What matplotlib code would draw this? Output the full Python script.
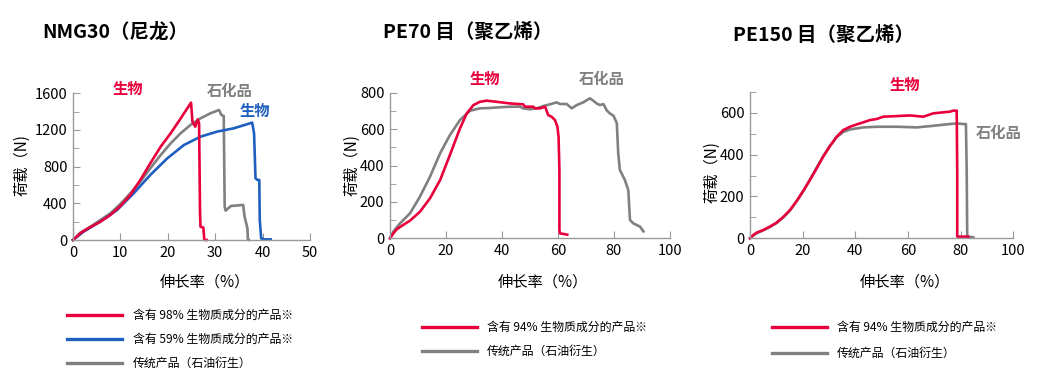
import matplotlib.pyplot as plt
from matplotlib.lines import Line2D

plt.rcParams['font.family'] = ['Noto Sans CJK SC', 'DejaVu Sans']

RED = '#e8003d'
BLUE = '#1f5fc0'
GRAY = '#808080'

# NMG30 (nylon)
nmg_red_x = [0, 1.55, 2.96, 5.77, 7.89, 10.0, 12.1, 14.2, 16.3, 18.5, 20.6, 22.5, 24.9, 25.2, 25.8, 26.3, 26.6, 26.8, 26.9, 27.5, 27.7, 28.2]
nmg_red_y = [0, 73, 120, 200, 273, 371, 491, 655, 836, 1018, 1164, 1309, 1498, 1291, 1236, 1316, 1273, 291, 145, 135, 0, 0]
nmg_blue_x = [0, 2.25, 5.77, 9.3, 12.8, 16.3, 19.9, 23.4, 26.9, 30.4, 33.9, 37.8, 38.2, 38.5, 38.9, 39.3, 39.4, 39.7, 40.3, 41.7]
nmg_blue_y = [0, 91, 200, 327, 509, 709, 891, 1036, 1127, 1182, 1218, 1280, 1164, 673, 655, 655, 218, 18, 7, 7]
nmg_gray_x = [0, 1.55, 3.66, 5.77, 7.89, 10.0, 12.1, 14.2, 16.3, 18.5, 20.6, 22.7, 24.8, 26.9, 29.0, 30.8, 31.3, 31.8, 32.0, 32.2, 33.3, 35.9, 36.2, 36.8, 36.9, 37.1]
nmg_gray_y = [0, 80, 145, 218, 291, 393, 509, 636, 782, 927, 1054, 1164, 1255, 1327, 1382, 1418, 1364, 1353, 364, 320, 371, 382, 255, 127, 0, 0]

# PE70 mesh
pe70_red_x = [0, 1.19, 2.38, 4.17, 7.14, 10.7, 14.3, 17.9, 21.4, 25.0, 27.4, 29.8, 32.1, 34.5, 38.1, 42.9, 47.6, 48.2, 51.2, 51.8, 53.6, 55.4, 56.5, 57.7, 58.9, 59.8, 60.2, 60.5, 60.5, 60.7, 61.9, 63.3]
pe70_red_y = [0, 27, 49, 68, 97, 146, 220, 320, 458, 604, 686, 732, 750, 756, 750, 741, 736, 723, 723, 714, 714, 723, 677, 668, 650, 613, 558, 375, 46, 27, 24, 20]
pe70_gray_x = [0, 1.19, 3.57, 7.14, 10.7, 14.3, 17.9, 21.4, 25.0, 28.6, 32.1, 35.7, 39.3, 42.9, 46.4, 47.6, 50.0, 52.4, 54.8, 57.1, 59.5, 60.7, 63.1, 64.9, 66.7, 69.0, 71.4, 72.6, 73.8, 75.0, 76.2, 77.4, 78.6, 79.8, 81.0, 81.5, 82.1, 82.7, 83.9, 85.1, 85.7, 86.9, 88.1, 89.3, 90.5]
pe70_gray_y = [0, 37, 82, 137, 229, 339, 467, 567, 650, 701, 714, 716, 720, 723, 723, 714, 709, 714, 727, 736, 747, 738, 738, 714, 732, 747, 769, 756, 741, 732, 738, 703, 685, 674, 633, 469, 375, 357, 320, 265, 101, 82, 73, 64, 38]

# PE150 mesh
pe150_red_x = [0, 1.27, 2.53, 5.06, 7.59, 10.1, 12.7, 15.2, 17.7, 20.3, 22.8, 25.3, 27.8, 30.4, 32.9, 35.4, 38.0, 40.5, 43.0, 45.6, 48.1, 50.6, 55.7, 60.8, 65.8, 69.6, 73.4, 75.9, 77.2, 78.5, 78.7, 78.7, 79.7, 82.9]
pe150_red_y = [0, 16, 27, 40, 56, 75, 103, 135, 178, 228, 279, 334, 390, 441, 485, 517, 533, 544, 554, 565, 570, 581, 584, 587, 581, 597, 602, 605, 610, 610, 326, 8, 8, 8]
pe150_gray_x = [0, 1.27, 2.53, 5.06, 7.59, 10.1, 12.7, 15.2, 17.7, 20.3, 22.8, 25.3, 27.8, 30.4, 32.9, 35.4, 38.0, 40.5, 43.0, 48.1, 55.7, 63.3, 68.4, 75.9, 78.5, 81.0, 82.0, 82.3, 82.5, 84.8]
pe150_gray_y = [0, 13, 24, 38, 54, 73, 100, 133, 176, 227, 282, 337, 393, 443, 483, 508, 520, 525, 530, 533, 533, 530, 536, 546, 549, 546, 546, 326, 8, 5]

W, H = 1040, 387
fig = plt.figure(figsize=(W / 100, H / 100), dpi=100)


def px(x, y):
    return x / W, 1 - y / H


def make_axes(left, right, bottom, top, xlim, ylim, xmaj, ymaj, ymin):
    ax = fig.add_axes([left / W, 1 - bottom / H, (right - left) / W, (bottom - top) / H])
    ax.set_xlim(*xlim)
    ax.set_ylim(*ylim)
    ax.set_xticks(range(xlim[0], xlim[1] + 1, xmaj))
    ax.set_yticks(range(ylim[0], ylim[1] + 1, ymaj))
    ax.set_yticks(range(ylim[0], ylim[1] + 1, ymin), minor=True)
    for s in ['top', 'right']:
        ax.spines[s].set_visible(False)
    for s in ['left', 'bottom']:
        ax.spines[s].set_color('#999999')
        ax.spines[s].set_linewidth(1)
    ax.tick_params(which='both', direction='in', color='#999999', labelsize=10.5, pad=4)
    ax.tick_params(which='major', length=5)
    ax.tick_params(which='minor', length=4)
    ax.patch.set_alpha(0)
    return ax


lw = 1.9
ax1 = make_axes(73, 310, 240, 93.3, (0, 50), (0, 1600), 10, 400, 200)
ax1.plot(nmg_gray_x, nmg_gray_y, color=GRAY, lw=lw, clip_on=False)
ax1.plot(nmg_blue_x, nmg_blue_y, color=BLUE, lw=lw, clip_on=False)
ax1.plot(nmg_red_x, nmg_red_y, color=RED, lw=lw, clip_on=False)

ax2 = make_axes(390, 670, 238.3, 92.7, (0, 100), (0, 800), 20, 200, 100)
ax2.plot(pe70_gray_x, pe70_gray_y, color=GRAY, lw=lw, clip_on=False)
ax2.plot(pe70_red_x, pe70_red_y, color=RED, lw=lw, clip_on=False)

ax3 = make_axes(750, 1013.3, 238.3, 91.8, (0, 100), (0, 700), 20, 200, 100)
ax3.set_yticks(range(0, 601, 200))
ax3.plot(pe150_gray_x, pe150_gray_y, color=GRAY, lw=lw, clip_on=False)
ax3.plot(pe150_red_x, pe150_red_y, color=RED, lw=lw, clip_on=False)

ylab = '荷载（N)'
xlab = '伸长率（%）'
for ax, yx, yy, xx, xy in [(ax1, -0.215, 0.51, 0.557, -0.286),
                           (ax2, -0.136, 0.5, 0.546, -0.30),
                           (ax3, -0.144, 0.45, 0.589, -0.298)]:
    ax.set_ylabel(ylab, fontsize=11)
    ax.yaxis.set_label_coords(yx, yy)
    ax.set_xlabel(xlab, fontsize=11)
    ax.xaxis.set_label_coords(xx, xy)
    ax.xaxis.label.set_va('center')
    ax.yaxis.label.set_va('center')

# titles
fig.text(*px(42, 32), 'NMG30（尼龙）', fontsize=14, fontweight='bold', ha='left', va='center')
fig.text(*px(383, 32), 'PE70 目（聚乙烯）', fontsize=14, fontweight='bold', ha='left', va='center')
fig.text(*px(733, 35), 'PE150 目（聚乙烯）', fontsize=14, fontweight='bold', ha='left', va='center')

# curve labels
for x, y, s, c in [(128, 89, '生物', RED), (230, 91, '石化品', GRAY), (255, 111, '生物', BLUE),
                   (485, 79, '生物', RED), (602, 79, '石化品', GRAY),
                   (905, 85, '生物', RED), (999, 133, '石化品', GRAY)]:
    fig.text(*px(x, y), s, color=c, fontsize=11, fontweight='bold', ha='center', va='center')

# legends
legends = [
    (67, 122, 133, [(315, RED, '含有 98% 生物质成分的产品※'),
                    (339, BLUE, '含有 59% 生物质成分的产品※'),
                    (363, GRAY, '传统产品（石油衍生）')]),
    (422, 477, 487, [(327, RED, '含有 94% 生物质成分的产品※'),
                     (351, GRAY, '传统产品（石油衍生）')]),
    (772, 827, 837, [(327, RED, '含有 94% 生物质成分的产品※'),
                     (353, GRAY, '传统产品（石油衍生）')]),
]
for x0, x1, tx, items in legends:
    for y, c, label in items:
        a, b = px(x0, y)
        a2, _ = px(x1, y)
        fig.add_artist(Line2D([a, a2], [b, b], color=c, lw=2.4, transform=fig.transFigure))
        fig.text(*px(tx, y), label, fontsize=8.6, ha='left', va='center')

plt.savefig('out.png', dpi=100, facecolor='white')
